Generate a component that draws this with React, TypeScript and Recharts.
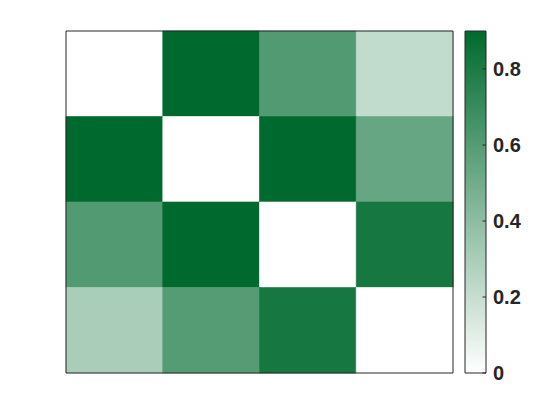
import React from 'react';
import { BarChart, Bar, XAxis, YAxis, Cell } from 'recharts';

const columns = ['c1', 'c2', 'c3', 'c4'];
const rowKeys = ['r1', 'r2', 'r3', 'r4'];
const row1 = [0, 0.9, 0.61, 0.22];
const row2 = [0.9, 0, 0.9, 0.54];
const row3 = [0.61, 0.9, 0, 0.82];
const row4 = [0.3, 0.6, 0.82, 0];
const matrix = [row1, row2, row3, row4];
const colorbarTicks = [0, 0.2, 0.4, 0.6, 0.8];
const colorMax = 0.9;

const LOW = [255, 255, 255];
const HIGH = [0, 106, 46];
const W = 560;
const H = 420;
const heatMargin = { top: 31, left: 66, right: 107, bottom: 47 };
const FRAME = '#262626';

function colorFor(v: number): string {
  const t = Math.max(0, Math.min(1, v / colorMax));
  const c = LOW.map((l, i) => Math.round(l + (HIGH[i] - l) * t));
  return `rgb(${c[0]},${c[1]},${c[2]})`;
}

const heatData = columns.map((col) => {
  const o: Record<string, any> = { col };
  rowKeys.forEach((r) => (o[r] = 1));
  return o;
});

const frameData = [{ name: 'frame', v: 1 }];
const cbData = [{ name: 'cb', v: colorMax }];

const layer: React.CSSProperties = { position: 'absolute', left: 0, top: 0 };

const CbTick = (props: any) => {
  const { x, y, payload } = props;
  const ax = x - 7;
  return (
    <g>
      <line x1={ax - 3.5} x2={ax} y1={y} y2={y} stroke={FRAME} strokeWidth={1} />
      <text
        x={x}
        y={y}
        dy="0.36em"
        fill={FRAME}
        style={{ fontSize: 20, fontWeight: 'bold', fontFamily: "'Liberation Sans', Arial, sans-serif" }}
      >
        {String(payload.value)}
      </text>
    </g>
  );
};

export default function App() {
  return (
    <div style={{ position: 'absolute', left: 0, top: 0, width: W, height: H, background: '#fff' }}>
      <div style={layer}>
        <BarChart width={W} height={H} data={heatData} margin={heatMargin} barCategoryGap={0} barGap={0}>
          <XAxis dataKey="col" hide />
          <YAxis type="number" domain={[0, 4]} reversed hide />
          {rowKeys.map((r, i) => (
            <Bar key={r} dataKey={r} stackId="s" isAnimationActive={false}>
              {columns.map((c, j) => (
                <Cell key={c} fill={colorFor(matrix[i][j])} stroke={colorFor(matrix[i][j])} strokeWidth={0.6} />
              ))}
            </Bar>
          ))}
        </BarChart>
      </div>
      <div style={layer}>
        <BarChart width={W} height={H} data={frameData} margin={heatMargin} barCategoryGap={0}>
          <XAxis dataKey="name" hide />
          <YAxis type="number" domain={[0, 1]} hide />
          <Bar dataKey="v" fill="none" stroke={FRAME} strokeWidth={1} isAnimationActive={false} />
        </BarChart>
      </div>
      <div style={layer}>
        <BarChart width={W} height={H} data={cbData} margin={{ top: 31, left: 465, right: 74, bottom: 47 }} barCategoryGap={0}>
          <defs>
            <linearGradient id="cbGrad" x1="0" y1="0" x2="0" y2="1">
              <stop offset="0%" stopColor={colorFor(colorMax)} />
              <stop offset="100%" stopColor={colorFor(0)} />
            </linearGradient>
          </defs>
          <XAxis dataKey="name" hide />
          <YAxis type="number" domain={[0, colorMax]} hide />
          <Bar dataKey="v" fill="url(#cbGrad)" stroke={FRAME} strokeWidth={1} isAnimationActive={false} />
        </BarChart>
      </div>
      <div style={layer}>
        <BarChart width={W} height={H} data={cbData} margin={{ top: 31, left: 465, right: 14, bottom: 47 }}>
          <XAxis dataKey="name" hide />
          <YAxis
            type="number"
            orientation="right"
            domain={[0, colorMax]}
            ticks={colorbarTicks}
            width={60}
            axisLine={false}
            tickLine={false}
            tickSize={0}
            tickMargin={7}
            tick={<CbTick />}
            interval={0}
          />
          <Bar dataKey="v" fill="none" isAnimationActive={false} />
        </BarChart>
      </div>
    </div>
  );
}
